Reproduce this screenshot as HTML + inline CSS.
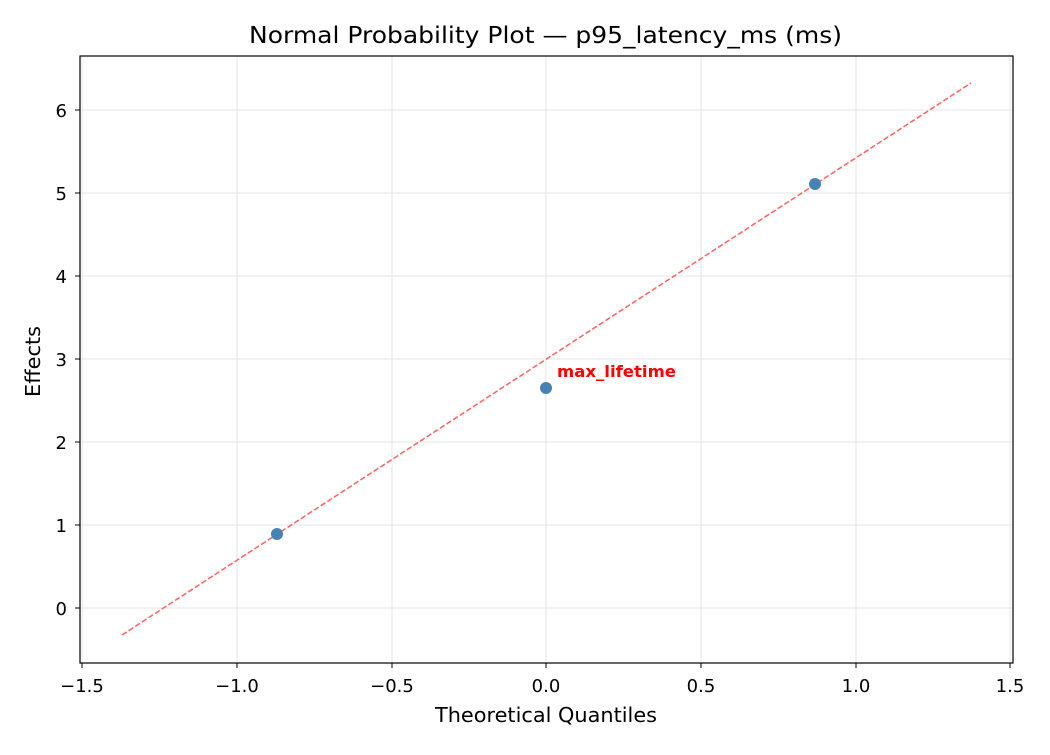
<!DOCTYPE html>
<html><head><meta charset="utf-8"><style>
body{margin:0;background:#fff;}
text{font-family:"DejaVu Sans","Liberation Sans",sans-serif;}
</style></head><body>
<svg width="1050" height="750" xmlns="http://www.w3.org/2000/svg">
<rect width="1050" height="750" fill="#fff"/>
<g stroke="#e6e6e6" stroke-width="1">
<line x1="82" y1="56" x2="82" y2="663"/><line x1="237" y1="56" x2="237" y2="663"/><line x1="392" y1="56" x2="392" y2="663"/><line x1="546" y1="56" x2="546" y2="663"/><line x1="701" y1="56" x2="701" y2="663"/><line x1="856" y1="56" x2="856" y2="663"/><line x1="1010" y1="56" x2="1010" y2="663"/>
<line x1="80" y1="608" x2="1013" y2="608"/><line x1="80" y1="525" x2="1013" y2="525"/><line x1="80" y1="442" x2="1013" y2="442"/><line x1="80" y1="359" x2="1013" y2="359"/><line x1="80" y1="276" x2="1013" y2="276"/><line x1="80" y1="193" x2="1013" y2="193"/><line x1="80" y1="110" x2="1013" y2="110"/>
</g>
<line x1="122" y1="635" x2="971" y2="83" stroke="#ff6060" stroke-width="1.5" stroke-dasharray="5.5,2.4"/>
<g fill="#4682b4"><circle cx="277" cy="534" r="6"/><circle cx="546" cy="388" r="6"/><circle cx="815" cy="184" r="6"/></g>
<text x="557" y="377" font-size="16" font-weight="bold" fill="#ff0000" textLength="119" lengthAdjust="spacingAndGlyphs">max_lifetime</text>
<rect x="80" y="56" width="933" height="607" fill="none" stroke="#000" stroke-width="1.2"/>
<g stroke="#000" stroke-width="1">
<line x1="82" y1="663" x2="82" y2="668"/><line x1="237" y1="663" x2="237" y2="668"/><line x1="392" y1="663" x2="392" y2="668"/><line x1="546" y1="663" x2="546" y2="668"/><line x1="701" y1="663" x2="701" y2="668"/><line x1="856" y1="663" x2="856" y2="668"/><line x1="1010" y1="663" x2="1010" y2="668"/>
<line x1="75" y1="608" x2="80" y2="608"/><line x1="75" y1="525" x2="80" y2="525"/><line x1="75" y1="442" x2="80" y2="442"/><line x1="75" y1="359" x2="80" y2="359"/><line x1="75" y1="276" x2="80" y2="276"/><line x1="75" y1="193" x2="80" y2="193"/><line x1="75" y1="110" x2="80" y2="110"/>
</g>
<g font-size="18" text-anchor="middle" fill="#000">
<text x="82" y="692">−1.5</text><text x="237" y="692">−1.0</text><text x="392" y="692">−0.5</text><text x="546" y="692">0.0</text><text x="701" y="692">0.5</text><text x="856" y="692">1.0</text><text x="1010" y="692">1.5</text>
</g>
<g font-size="18" text-anchor="end" fill="#000">
<text x="67" y="615">0</text><text x="67" y="532">1</text><text x="67" y="449">2</text><text x="67" y="366">3</text><text x="67" y="283">4</text><text x="67" y="200">5</text><text x="67" y="117">6</text>
</g>
<text x="435" y="722" font-size="20" textLength="222" lengthAdjust="spacingAndGlyphs">Theoretical Quantiles</text>
<text x="0" y="0" font-size="20" textLength="71" lengthAdjust="spacingAndGlyphs" transform="translate(40 397) rotate(-90)">Effects</text>
<text x="249" y="43" font-size="23" textLength="593" lengthAdjust="spacingAndGlyphs">Normal Probability Plot — p95_latency_ms (ms)</text>
</svg>
</body></html>
